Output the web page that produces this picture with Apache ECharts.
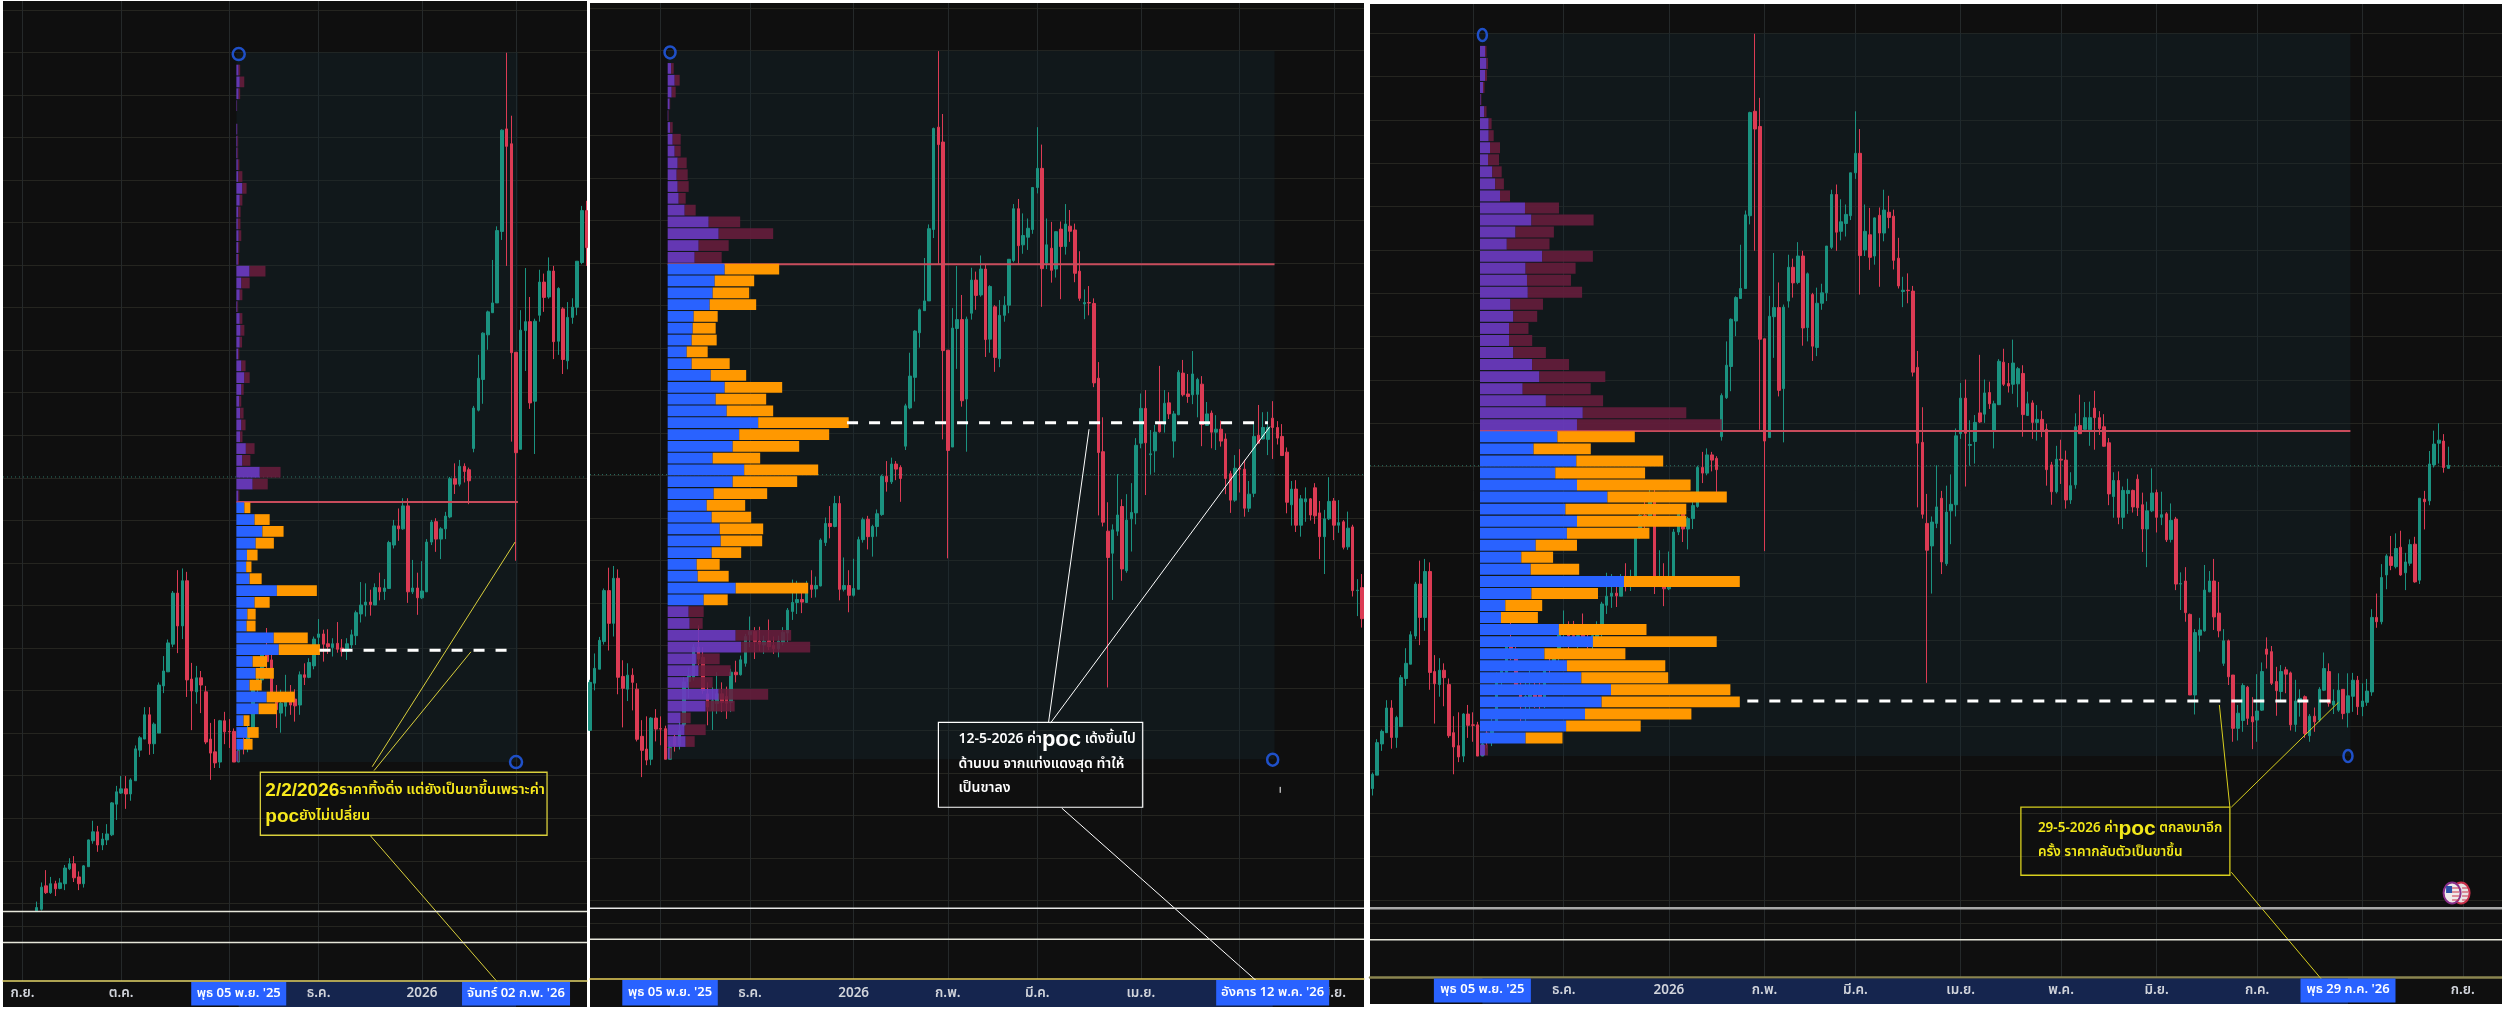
<!DOCTYPE html>
<html><head><meta charset="utf-8">
<style>html,body{margin:0;padding:0;background:#fff}#c{width:2502px;height:1014px}</style>
<script src="https://cdn.jsdelivr.net/npm/echarts@6/dist/echarts.min.js"></script>
</head><body><div id="c"></div>
<script>
// Daily bars, one row = [open, close, low, high]
const barsSep=[[3582,3590,3582,3604],[3586,3638,3583,3649],[3641,3625,3622,3678],[3625,3646,3622,3662],[3646,3634,3617,3653],[3635,3648,3633,3659],[3646,3683,3631,3690],[3681,3693,3678,3706],[3693,3660,3650,3711],[3662,3646,3631,3675],[3646,3688,3637,3690],[3686,3749,3686,3750],[3747,3768,3740,3794],[3768,3737,3721,3782],[3737,3751,3725,3765],[3749,3763,3737,3786],[3761,3836,3758,3838],[3833,3862,3796,3876]];
const barsOct=[[3859,3869,3857,3899],[3869,3857,3822,3899],[3857,3890,3841,3894],[3888,3963,3888,3971],[3960,3989,3944,3993],[3986,4043,3986,4061],[4043,3975,3949,4061],[3975,4021,3951,4025],[4000,4113,4000,4119],[4111,4146,4094,4181],[4144,4212,4144,4220],[4209,4329,4202,4334],[4329,4252,4188,4383],[4252,4358,4221,4387],[4358,4125,4085,4379],[4127,4099,4007,4165],[4097,4130,4069,4158],[4130,4113,4047,4146],[4097,3979,3974,4111],[3986,3953,3890,4024],[3956,3930,3918,4033],[3932,4029,3918,4031],[4029,4003,3974,4050]];
const barsNov=[[4004,4003,3965,4033],[4004,3932,3932,4011],[3932,3960,3932,3975],[3985,3965,3950,3990],[3965,4000,3955,4020],[4012,4114,4008,4125],[4115,4128,4075,4148],[4125,4196,4117,4203],[4196,4168,4153,4247],[4172,4094,4086,4196],[4086,4055,4012,4113],[4047,4070,4001,4102],[4063,4086,4039,4137],[4086,4066,4043,4113],[4080,4064,4027,4103],[4066,4137,4043,4145],[4137,4131,4113,4164],[4131,4166,4129,4176],[4158,4221,4150,4227]];
const barsDec=[[4225,4233,4196,4268],[4233,4209,4168,4243],[4210,4203,4186,4244],[4201,4210,4180,4223],[4211,4197,4189,4261],[4200,4192,4180,4221],[4192,4210,4172,4223],[4207,4231,4200,4243],[4229,4283,4207,4288],[4280,4301,4260,4355],[4301,4308,4274,4352],[4308,4302,4276,4337],[4301,4342,4301,4352],[4342,4332,4312,4377],[4333,4341,4313,4362],[4340,4448,4339,4452],[4442,4487,4434,4501],[4487,4480,4452,4528],[4480,4534,4478,4552],[4534,4332,4306,4552],[4332,4341,4327,4407],[4341,4318,4278,4377]];
const barsJan=[[4318,4334,4315,4404],[4332,4449,4332,4456],[4449,4496,4442,4501],[4497,4456,4426,4505],[4456,4480,4409,4484],[4480,4510,4456,4520],[4508,4598,4505,4602],[4598,4585,4562,4634],[4585,4627,4580,4642],[4627,4615,4589,4634],[4619,4593,4538,4624],[4669,4764,4660,4769],[4759,4834,4756,4889],[4831,4940,4774,4942],[4936,4990,4901,4993],[4988,5011,4988,5112],[5011,5181,5011,5191],[5179,5417,5159,5419],[5420,5379,5098,5599],[5385,4894,4685,5451]];
const barsFeb=[[4895,4659,4405,4895],[4667,4947,4667,4994],[4946,4967,4851,5093],[4967,4776,4762,5025],[4780,4968,4656,4974],[4982,5060,4967,5089],[5060,5024,4990,5080],[5025,5086,5021,5118],[5086,4920,4879,5098],[4921,5045,4889,5048],[4997,4878,4844,5001],[4875,4977,4855,5013],[4977,5001,4962,5022],[5001,5109,4982,5109],[5106,5228,5102,5239],[5228,5141,5098,5251],[5143,5165,5122,5217],[5161,5182,5131,5205],[5179,5278,5169,5278]];
const barsMar=[[5278,5323,5264,5420],[5323,5087,4997,5379],[5100,5143,5086,5205],[5135,5083,5054,5197],[5086,5174,5066,5175],[5180,5139,5015,5198],[5139,5192,5120,5239],[5187,5175,5150,5225],[5178,5076,5055,5193],[5081,5017,5011,5128],[5004,5007,4968,5038],[5007,5006,4977,5046],[5005,4818,4808,5017],[4829,4654,4506,4867],[4656,4490,4480,4737],[4469,4407,4101,4537],[4417,4472,4307,4485],[4469,4507,4458,4603],[4527,4380,4352,4544],[4376,4495,4371,4556],[4498,4513,4421,4582],[4512,4671,4485,4688]];
const barsApr=[[4676,4758,4664,4793],[4758,4677,4554,4801],[4649,4651,4602,4707],[4658,4702,4607,4719],[4724,4703,4701,4858],[4721,4770,4701,4801],[4771,4745,4733,4796],[4681,4745,4642,4752],[4743,4843,4742,4848],[4841,4790,4786,4872],[4792,4786,4771,4839],[4790,4839,4768,4893],[4791,4826,4737,4830],[4815,4720,4669,4834],[4718,4745,4717,4773],[4747,4702,4664,4753],[4702,4709,4660,4742],[4709,4681,4668,4729],[4686,4593,4556,4699],[4604,4542,4512,4611],[4542,4617,4538,4648]];
const barsMay=[[4617,4615,4560,4662],[4615,4523,4503,4637],[4523,4556,4514,4587],[4558,4692,4549,4723],[4695,4676,4676,4766],[4686,4713,4685,4749],[4685,4713,4648,4750],[4735,4713,4639,4775],[4713,4688,4673,4728],[4692,4647,4646,4721],[4655,4537,4511,4666],[4531,4568,4482,4587],[4568,4483,4467,4589],[4483,4545,4456,4554],[4538,4545,4491,4572],[4545,4507,4494,4547],[4571,4505,4486,4582],[4512,4456,4403,4540],[4456,4498,4368,4519],[4498,4539,4495,4596]];
const barsJun=[[4540,4483,4448,4547],[4483,4489,4465,4542],[4491,4431,4426,4495],[4432,4476,4425,4515],[4479,4329,4315,4484],[4329,4330,4269,4356],[4336,4263,4242,4368],[4259,4073,4073,4261],[4073,4217,4028,4225],[4211,4223,4173,4251],[4221,4315,4219,4373],[4311,4336,4310,4359],[4336,4253,4223,4387],[4262,4221,4206,4334],[4146,4198,4140,4225],[4198,4115,4096,4201],[4119,3996,3965,4119],[3996,4031,3968,4050],[4014,4095,3988,4100],[4091,4019,4004,4094],[4023,4011,3948,4068]];
const barsJul=[[4015,4036,3965,4121],[4038,4127,4036,4148],[4179,4167,4134,4206],[4173,4100,4096,4186],[4104,4083,4025,4138],[4081,4127,4059,4142],[4131,4121,4077,4138],[4124,4004,3991,4127],[4005,4059,3988,4108],[4057,4065,4023,4086],[4069,3984,3974,4072],[3979,4024,3965,4029],[4024,4011,3988,4044],[4015,4086,4011,4091],[4084,4134,4082,4171],[4127,4054,4046,4146],[4050,4059,4029,4086],[4038,4084,4034,4123],[4086,4030,4017,4086],[4032,4071,3998,4123],[4070,4107,4034,4124],[4107,4046,4027,4117]];
const barsAug=[[4046,4059,4024,4100],[4056,4082,4048,4110],[4080,4252,4071,4271],[4252,4242,4228,4307],[4242,4344,4236,4375],[4350,4394,4317,4398],[4392,4372,4361,4440],[4369,4411,4365,4446],[4414,4350,4348,4452],[4355,4380,4315,4401],[4377,4420,4371,4432],[4421,4334,4332,4438],[4338,4527,4329,4527],[4525,4519,4455,4544],[4521,4606,4511,4636],[4604,4652,4598,4683],[4654,4661,4607,4700],[4659,4598,4586,4675],[4596,4603,4596,4646]];

// Month ticks on the bar index, with their labels
const monthTicks=[-3,18,41,60,82,102,121,143,164,184,205,227,248];
const monthLabels=['ก.ย.','ต.ค.','พ.ย.','ธ.ค.','2026','ก.พ.','มี.ค.','เม.ย.','พ.ค.','มิ.ย.','ก.ค.','ส.ค.','ก.ย.'];
const priceGrid=[5700,5600,5500,5400,5300,5200,5100,5000,4900,4800,4700,4600,4500,4400,4300,4200,4100,4000,3900,3800,3700,3600,3546];
const lastPrice=4602, paneLevel1=3581, paneLevel2=3508;
const rangeHigh=5600, rangeLow=3932, anchorBar=42.5;

// Volume profile, 60 rows top to bottom: up and down volume
const vpUp1=[0,2.3,3.4,2.3,.5,0,.8,1,1,1.5,2,6,3.4,2,1.5,2.3,2,1.5,13.2,5,3.4,1,3.4,4.2,3.4,1.9,5,8,5,3,3.8,5,3.8,9.5,6,23.4,16.3,2,8,18.2,26,19.3,10.6,9.8,13.2,40.5,18.2,11,10.2,37.4,42.4,16.3,19.3,13.2,30.3,22.3,7.2,11,7.2,1.5];
const vpDown1=[0,1.5,4.5,1.5,.3,0,.3,.8,.8,1.5,4,4.2,2.6,2.2,2.6,2.6,1,1.2,15.9,8.3,2.6,.8,2.6,3.8,2.3,1,4.2,5.3,2.3,1.9,3.4,4.2,2.3,8.7,8,20.8,15.1,1,6,15.1,21.2,18.2,10.6,5.3,12.1,40,15.1,8.3,9,34,41.2,14.4,18.2,12.1,28,18.2,6,11.3,9,1.5];
const vpUp2=[0,3.5,7,4,2,.5,2.5,5,7,10,9,10,11,17,41,51,31,27,57,47,45,42,26,25,24,19,24,43,57,48,59,90.5,71.5,65,45,76.5,65,46,39,44,52,53,44,29,30,68,36,21,22,68,73.5,29,31,21,51,38,13,17,18,2];
const vpDown2=[0,2.5,5,4,.5,.5,2.5,8,6,9,11,11,7,11,31.5,54.5,30,27,54.5,39.5,36.5,46.5,24,23,25,21,38,35.5,57.5,50.5,46.5,90.5,90,66.5,47.5,74,64.5,53.5,38.5,39.5,43.5,41.5,29.5,23,31,72.5,24,15,13,55.5,69,23,32,24,49.5,29,10,21,9,2];
const vpUp3=[0,5,6.5,5,3,.7,4.3,8.7,8.7,10,8,12.3,15.2,20,45,51.4,35.5,26.8,62.2,45.6,47,47.8,30.4,33.3,29,29,33.3,52.1,59.4,42.7,65.9,102.8,97,77.4,53.6,96.3,75.3,97,127.4,85.4,97,86.9,55.7,41.3,50.7,144,51.4,25.3,21,78.9,112.9,64.4,86.9,101.3,131,121.6,105,86.1,45.6,5];
const vpDown3=[0,1.5,1.5,2,1.5,.7,2.2,2.9,5,10,11,9.4,8.7,10,34,62.2,38.4,42.7,50.7,50,44,54.3,32.6,23.9,19.5,23.2,32.6,36.9,65.9,68,57.2,103.5,144.8,77.4,57.2,86.9,89.8,113.6,119.4,120.9,109.3,82.5,41.3,31.8,48.5,115.8,66.6,36.9,36.9,87.6,123.8,81,98.4,86.9,119.4,138.2,106.4,74.6,36.9,3];

// Notes
const note1=['{big|2/2/2026}{txt|ราคาทิ้งดิ่ง แต่ยังเป็นขาขึ้นเพราะค่า}','{big|poc}{txt|ยังไม่เปลี่ยน}'];
const note2=['{txt|12-5-2026 ค่า}{big|poc}{txt| เด้งขึ้นไป}','{txt|ด้านบน จากแท่งแดงสุด ทำให้}','{txt|เป็นขาลง}'];
const note3=['{txt|29-5-2026 ค่า}{big|poc}{txt| ตกลงมาอีก}','{txt|ครั้ง ราคากลับตัวเป็นขาขึ้น}'];
const dateLabelStart="พุธ 05 พ.ย. '25";

const panels=[
 {l:3,r:587,t:1,yellow:981,b:1007,xMin:-7.15,xMax:117.1,yMin:3417.4,yMax:5720.6,
  up:vpUp1,down:vpDown1,vaFrom:38,vaTo:58,endBar:102.4,
  poc:{p:4195,from:60.2,to:101},vah:4543,
  circles:[[43,5596],[102,3932]],rx:6,
  bandEnd:102,endLabel:"จันทร์ 02 ก.พ. '26",boxW:[95,108],
  note:{lines:note1,box:[47.6,3908,108.6,3760],pad:5,lh:26,big:19,txt:14.5,color:'#f7e81c',boxColor:'#d9cf3c',boxLw:1.3,
        segs:[[71.4,3921,101.8,4449],[71.8,3912,92.4,4191],[71,3759,98.2,3413]]},
  pane1:{c:'#e6e6da',w:1.5},yc:'#e3d56a',yw:1.5},
 {l:590,r:1364,t:3,yellow:979,b:1007,xMin:26,xMax:190.4,yMin:3414.7,yMax:5712.3,
  up:vpUp2,down:vpDown2,vaFrom:18,vaTo:46,endBar:171.4,
  poc:{p:4724,from:80.6,to:170},vah:5097,
  circles:[[43,5596],[171,3931]],rx:5.5,
  bandEnd:171,endLabel:"อังคาร 12 พ.ค. '26",boxW:[95.5,113],
  note:{lines:note2,box:[100,4019,143.4,3819],pad:20,lh:24.4,big:22,txt:14,color:'#ffffff',boxColor:'#ffffff',boxLw:1.2,
        segs:[[123.4,4019,132,4709],[123.8,4017,170.4,4715],[126.2,3817,168.1,3405],[172.6,3867,172.6,3853]]},
  pane1:{c:'#e6e6e6',w:1.5},yc:'#e8cf5a',yw:1.5},
 {l:1370,r:2502,t:4,yellow:977.5,b:1004,xMin:19.5,xMax:256.2,yMin:3421,yMax:5667.6,
  up:vpUp3,down:vpDown3,vaFrom:33,vaTo:58,endBar:224.5,
  poc:{p:4059,from:98.4,to:222},vah:4682,
  circles:[[43,5596],[224,3932]],rx:4.5,
  bandEnd:224,endLabel:"พุธ 29 ก.ค. '26",boxW:[97,95],
  note:{lines:note3,box:[155.6,3814,199.3,3657],pad:17,lh:24.4,big:21,txt:13.5,color:'#f2e81a',boxColor:'#d8cf1e',boxLw:1.3,
        segs:[[197.1,4050,199.3,3814],[199.6,3814,222,4056],[199.6,3664,219.3,3406]]},
  pane1:{c:'#a8a8a8',w:2.5},yc:'#8b8550',yw:2.5,flag:[246.6,3616]}
];

const FONT="'Noto Sans Thai','Noto Sans','Liberation Sans',sans-serif";
const UP='#1b9280',DOWN='#dc3b54';
const allBars=[...barsSep,...barsOct,...barsNov,...barsDec,...barsJan,...barsFeb,...barsMar,...barsApr,...barsMay,...barsJun,...barsJul,...barsAug];
const candleData=allBars.map((r,i)=>[i,r[0],r[1],r[2],r[3]]);

const grid=[],xAxis=[],yAxis=[],series=[];
panels.forEach((P,k)=>{
  const W=P.r-P.l, G=k*3;
  const pxX=b=>P.l+(b-P.xMin)/(P.xMax-P.xMin)*W;
  const pxY=v=>P.t+(P.yMax-v)/(P.yMax-P.yMin)*(P.yellow-P.t);
  // price grid
  grid.push({left:P.l,top:P.t,width:W,height:P.yellow-P.t,show:true,backgroundColor:'#0f0f0f',borderWidth:0});
  xAxis.push({gridIndex:G,type:'value',min:P.xMin,max:P.xMax,
    axisLine:{show:true,onZero:false,lineStyle:{color:P.yc,width:P.yw}},
    axisTick:{show:false,customValues:monthTicks},axisLabel:{show:false},
    splitLine:{show:true,lineStyle:{color:'#25292a',width:1}}});
  yAxis.push({gridIndex:G,type:'value',min:P.yMin,max:P.yMax,
    axisLine:{show:false},axisTick:{show:false,customValues:priceGrid},axisLabel:{show:false},
    splitLine:{show:true,lineStyle:{color:'#252520',width:1}}});
  // profile grid
  const gx=pxX(anchorBar), gw=pxX(P.endBar)-gx, gt=pxY(rangeHigh), gh=pxY(rangeLow)-gt;
  grid.push({left:gx,top:gt,width:gw,height:gh});
  xAxis.push({gridIndex:G+1,type:'value',min:0,max:gw,show:false});
  yAxis.push({gridIndex:G+1,type:'category',inverse:true,show:false,data:P.up.map((_,r)=>r)});
  // time band
  grid.push({left:P.l,top:P.yellow,width:W,height:P.b-P.yellow,show:true,backgroundColor:'#0f0f0f',borderWidth:0});
  xAxis.push({gridIndex:G+2,type:'value',min:P.xMin,max:P.xMax,z:5,
    axisLine:{show:false},axisTick:{show:false,customValues:monthTicks},splitLine:{show:false},
    axisLabel:{show:true,inside:true,customValues:monthTicks,margin:6,color:'#d2d5dc',fontSize:13.5,fontWeight:600,fontFamily:FONT,
      hideOverlap:false,showMinLabel:true,showMaxLabel:true,
      formatter:v=>monthLabels[monthTicks.indexOf(v)]||''}});
  yAxis.push({gridIndex:G+2,type:'value',min:0,max:1,show:false});

  const m={xAxisIndex:G,yAxisIndex:G};
  // shaded anchored range
  series.push({type:'custom',...m,z:1,silent:true,data:[[anchorBar,rangeHigh,P.endBar,rangeLow]],
    renderItem:(pr,api)=>{const a=api.coord([api.value(0),api.value(1)]),b=api.coord([api.value(2),api.value(3)]);
      return {type:'rect',shape:{x:a[0],y:a[1],width:b[0]-a[0],height:b[1]-a[1]},style:{fill:'rgba(20,44,52,0.33)'}};}});
  // candles
  series.push({type:'candlestick',...m,z:3,silent:true,barWidth:3,data:candleData,
    itemStyle:{color:UP,color0:DOWN,borderColor:UP,borderColor0:DOWN,borderWidth:1}});
  // last price + sub-pane lines
  const hline=(v,color,width,type,z)=>({type:'line',...m,z,silent:true,symbol:'none',data:[[P.xMin,v],[P.xMax,v]],lineStyle:{color,width,type}});
  series.push(hline(lastPrice,'#2b7668',1,[1,3],2));
  series.push(hline(paneLevel1,P.pane1.c,P.pane1.w,'solid',8));
  series.push(hline(paneLevel2,'#e6e6da',1.5,'solid',8));
  // value-area high
  series.push({type:'line',...m,z:4,silent:true,symbol:'none',data:[[anchorBar,P.vah],[P.endBar,P.vah]],lineStyle:{color:'#c84c5c',width:2}});
  // profile
  const rowColor=(a,b)=>p=>(p.dataIndex>=P.vaFrom&&p.dataIndex<=P.vaTo)?a:b;
  const prof={type:'bar',xAxisIndex:G+1,yAxisIndex:G+1,stack:'vp'+k,z:5,silent:true,barCategoryGap:'9%',animation:false};
  series.push({...prof,data:P.up,itemStyle:{color:rowColor('#2962ff','rgba(106,58,190,0.93)')}});
  series.push({...prof,data:P.down,itemStyle:{color:rowColor('#ff9800','rgba(104,28,60,0.88)')}});
  // POC
  series.push({type:'line',...m,z:6,silent:true,symbol:'none',data:[[P.poc.from,P.poc.p],[P.poc.to,P.poc.p]],lineStyle:{color:'#ffffff',width:3,type:[11,11]}});
  // anchors
  series.push({type:'custom',...m,z:7,silent:true,data:P.circles,
    renderItem:(pr,api)=>{const c=api.coord([api.value(0),api.value(1)]);
      return {type:'ellipse',shape:{cx:c[0],cy:c[1],rx:P.rx,ry:6},style:{fill:'none',stroke:'#1f50c8',lineWidth:2.5}};}});
  // note
  const N=P.note;
  series.push({type:'custom',...m,z:7,silent:true,data:N.segs,
    renderItem:(pr,api)=>{const a=api.coord([api.value(0),api.value(1)]),b=api.coord([api.value(2),api.value(3)]);
      return {type:'line',shape:{x1:a[0],y1:a[1],x2:b[0],y2:b[1]},style:{stroke:N.boxColor,lineWidth:1}};}});
  series.push({type:'custom',...m,z:7,silent:true,data:[N.box],
    renderItem:(pr,api)=>{const a=api.coord([api.value(0),api.value(1)]),b=api.coord([api.value(2),api.value(3)]);
      return {type:'group',children:[
        {type:'rect',shape:{x:a[0],y:a[1],width:b[0]-a[0],height:b[1]-a[1]},style:{fill:'none',stroke:N.boxColor,lineWidth:N.boxLw}},
        {type:'text',x:a[0]+N.pad,y:(a[1]+b[1])/2,style:{text:N.lines.join('\n'),textAlign:'left',textVerticalAlign:'middle',fill:N.color,
          rich:{big:{fontSize:N.big,fontWeight:'bold',fill:N.color,fontFamily:'Liberation Sans',lineHeight:N.lh},
                txt:{fontSize:N.txt,fontWeight:600,fill:N.color,fontFamily:FONT,lineHeight:N.lh}}}}]};}});
  // time band marks
  const b={xAxisIndex:G+2,yAxisIndex:G+2};
  series.push({type:'custom',...b,z:1,silent:true,data:[[43,P.bandEnd]],
    renderItem:(pr,api)=>{const a=api.coord([api.value(0),1]),c=api.coord([api.value(1),0]);
      return {type:'rect',shape:{x:a[0],y:a[1]+1,width:c[0]-a[0],height:c[1]-a[1]-1},style:{fill:'#15254e'}};}});
  const dateRows=[[43,0],[P.bandEnd,1]];
  const texts=[dateLabelStart,P.endLabel];
  series.push({type:'custom',...b,z:9,silent:true,data:dateRows,
    renderItem:(pr,api)=>{const j=api.value(1),w=P.boxW[j],a=api.coord([api.value(0),1]),c=api.coord([api.value(0),0]);
      return {type:'group',children:[
        {type:'rect',shape:{x:a[0]-w/2,y:a[1]+1,width:w,height:c[1]-a[1]-2.5},style:{fill:'#2962ff'}},
        {type:'text',x:a[0],y:(a[1]+c[1])/2,style:{text:texts[j],textAlign:'center',textVerticalAlign:'middle',fill:'#ffffff',fontSize:13,fontWeight:600,fontFamily:FONT}}]};}});
  if(P.flag){
    series.push({type:'custom',...m,z:9,silent:true,data:[P.flag],
      renderItem:(pr,api)=>{const c=api.coord([api.value(0),api.value(1)]);
        const kids=[{type:'ellipse',shape:{cx:c[0]+5,cy:c[1],rx:8.5,ry:10.5},style:{fill:'#e8e2e2',stroke:'#c9304a',lineWidth:2}},
          {type:'ellipse',shape:{cx:c[0]-4,cy:c[1],rx:8.5,ry:10.5},style:{fill:'#f0eaea',stroke:'#8a2f8a',lineWidth:2}},
          {type:'rect',shape:{x:c[0]-10,y:c[1]-7,width:6,height:7},style:{fill:'#2b50a8'}}];
        [-5,-1,3,7].forEach(d=>kids.push({type:'line',shape:{x1:c[0]-4,y1:c[1]+d,x2:c[0]+3,y2:c[1]+d},style:{stroke:'#c9304a',lineWidth:1}}));
        [-5,-1,3,7].forEach(d=>kids.push({type:'line',shape:{x1:c[0]+6,y1:c[1]+d,x2:c[0]+12,y2:c[1]+d},style:{stroke:'#c9304a',lineWidth:1}}));
        return {type:'group',children:kids};}});
  }
});

const chart=echarts.init(document.getElementById('c'),null,{renderer:'canvas',width:2502,height:1014});
chart.setOption({animation:false,backgroundColor:'#ffffff',grid,xAxis,yAxis,series});
</script></body></html>
